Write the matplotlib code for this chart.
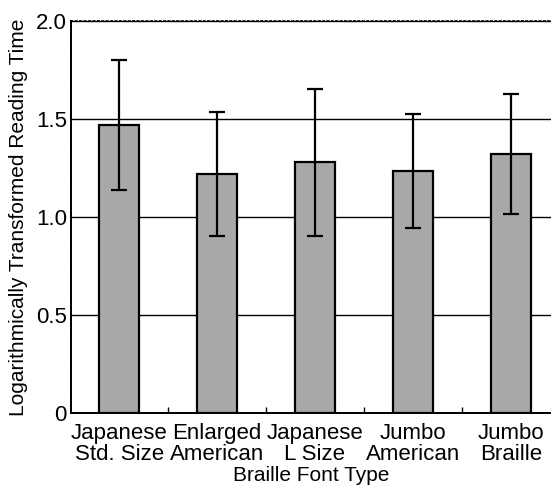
import matplotlib.pyplot as plt
from matplotlib.ticker import FixedLocator

plt.rcParams['font.family'] = ['Liberation Sans', 'DejaVu Sans']

font_types = ['Japanese\nStd. Size', 'Enlarged\nAmerican', 'Japanese\nL Size',
              'Jumbo\nAmerican', 'Jumbo\nBraille']
mean_log_time = [1.47, 1.22, 1.28, 1.235, 1.32]
sd_log_time = [0.33, 0.315, 0.375, 0.29, 0.305]
y_ticks = [0, 0.5, 1.0, 1.5, 2.0]
y_tick_labels = ['0', '0.5', '1.0', '1.5', '2.0']

fig = plt.figure(figsize=(5.51, 4.86), dpi=100)
ax = fig.add_axes([0.129, 0.150, 0.871, 0.807])

x = list(range(len(font_types)))
ax.bar(x, mean_log_time, width=0.41, color='#a8a8a8', edgecolor='black',
       linewidth=1.6, zorder=3)
ax.errorbar(x, mean_log_time, yerr=sd_log_time, fmt='none', ecolor='black',
            elinewidth=1.6, capsize=6, capthick=1.6, zorder=4)

ax.set_xlim(-0.49, 4.41)
ax.set_ylim(0, 2.0)
ax.set_yticks(y_ticks)
ax.set_yticklabels(y_tick_labels)
ax.set_xticks(x)
ax.set_xticklabels(font_types, linespacing=1.0)
ax.xaxis.set_minor_locator(FixedLocator([0.5, 1.5, 2.5, 3.5]))

ax.grid(axis='y', color='black', linewidth=1.0, zorder=1)
ax.tick_params(axis='y', which='major', length=0, labelsize=16, pad=3)
ax.tick_params(axis='x', which='major', length=0, labelsize=16, pad=7)
ax.tick_params(axis='x', which='minor', direction='in', length=4, width=1)

ax.spines['right'].set_visible(False)
ax.spines['top'].set_linestyle(':')
ax.spines['top'].set_linewidth(1.2)
for side in ['left', 'bottom']:
    ax.spines[side].set_linewidth(1.4)
    ax.spines[side].set_linestyle((0, (1, 0.5)))

ax.set_xlabel('Braille Font Type', fontsize=15, labelpad=1)
ax.set_ylabel('Logarithmically Transformed Reading Time', fontsize=15, labelpad=6)

fig.savefig('out.png', dpi=100)
